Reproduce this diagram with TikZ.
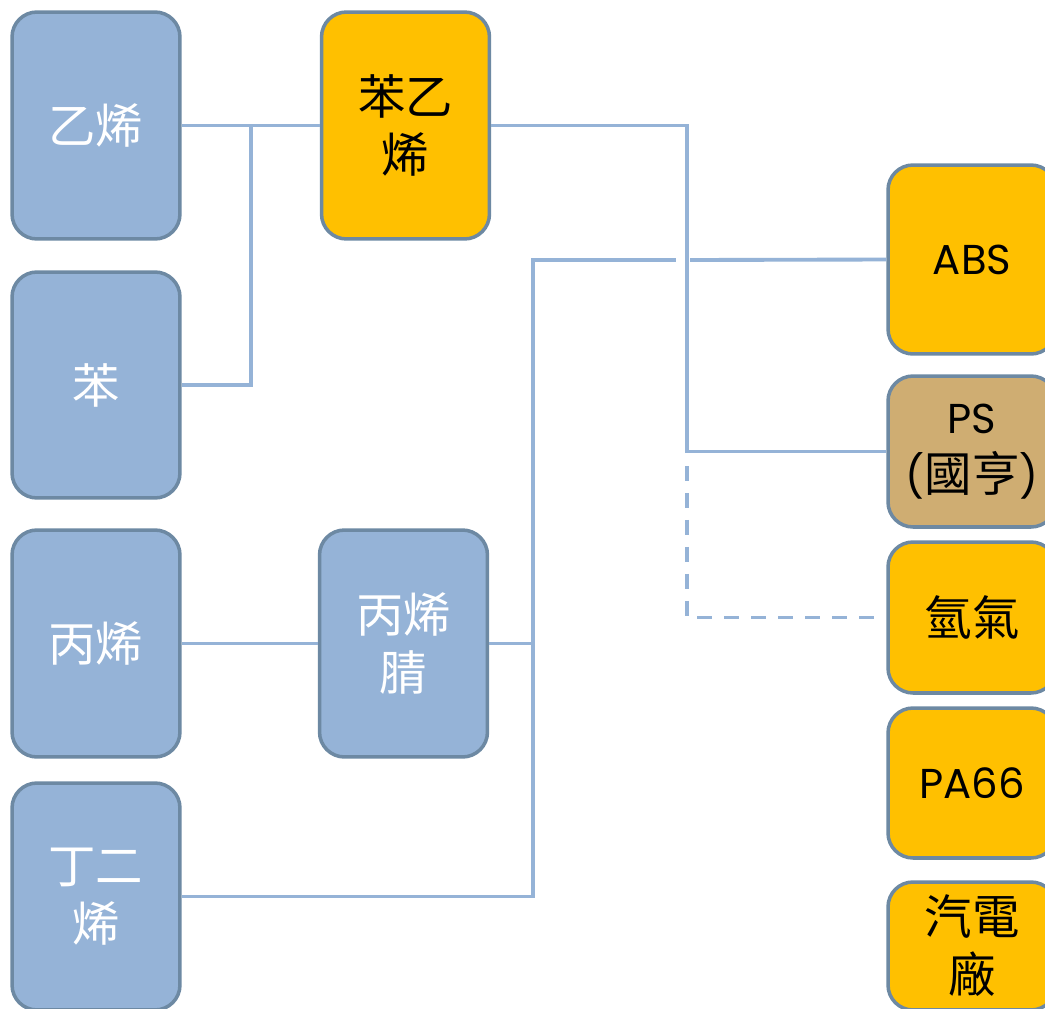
\documentclass[tikz,border=0pt]{standalone}
\usepackage{fontspec}
\newfontfamily\cjk{Noto Sans CJK TC}
\newfontfamily\latin[Scale=0.88]{Poppins}
\definecolor{steelfill}{HTML}{95B3D7}
\definecolor{steeledge}{HTML}{6D89A3}
\definecolor{goldfill}{HTML}{FFC000}
\definecolor{tanfill}{HTML}{CFAD72}
\tikzset{base box/.style={
    draw=steeledge, line width=2pt, rounded corners=0.5cm,
    minimum width=3.36cm, align=center, inner sep=0pt,
    font=\fontsize{27}{33}\selectfont\cjk,
  },
  blue box/.style={base box, fill=steelfill, text=white},
  gold box/.style={base box, fill=goldfill, text=black},
  tan box/.style={base box, fill=tanfill, text=black},
  link/.style={draw=steelfill, line width=2.2pt},
  dashed link/.style={link, dash pattern=on 0.3cm off 0.24cm},
}

\begin{document}
\begin{tikzpicture}[x=0.02cm, y=-0.02cm]
\clip (0,0) rectangle (1045,1008);
\fill[white] (0,0) rectangle (1045,1008);
% joints of the connectors
\coordinate (ethjoin) at (251,125.5);
\coordinate (styjoin) at (687,125.5);
\coordinate (absjoin) at (533,260);
\coordinate (acnjoin) at (533,643.5);
\coordinate (hopleft) at (676,260);
\coordinate (hopright) at (690,260);
\coordinate (dashtop) at (687,466);
% left column
\node[blue box, minimum height=4.54cm] (ethylene) at (96,125.5) {乙烯};
\node[blue box, minimum height=4.52cm] (benzene) at (96,385) {苯};
\node[blue box, minimum height=4.54cm] (propylene) at (96,643.5) {丙烯};
\node[blue box, minimum height=4.54cm] (butadiene) at (96,896.5) {丁二\\烯};
% middle column
\node[gold box, minimum height=4.54cm] (styrene) at (405.5,125.5) {苯乙\\烯};
\node[blue box, minimum height=4.54cm] (acrylo) at (403.5,643.5) {丙烯\\腈};
% right column
\node[gold box, minimum height=3.78cm] (abs) at (972,259.5) {\latin ABS};
\node[tan box, minimum height=3.02cm] (ps) at (972,451.5) {\latin PS\\{\latin(}國亨{\latin)}};
\node[gold box, minimum height=3.02cm] (hydrogen) at (972,617.5) {氫氣};
\node[gold box, minimum height=3.00cm] (pa) at (972,783) {\latin PA66};
\node[gold box, minimum height=2.56cm] (power) at (972,946) {汽電\\廠};
% connectors
\draw[link] (ethylene.east) -- (styrene.west);
\draw[link] (benzene.east) -| (ethjoin);
\draw[link] (styrene.east) -- (styjoin) |- (ps.west);
\draw[dashed link] (dashtop) |- (hydrogen.west);
\draw[link] (propylene.east) -- (acrylo.west);
\draw[link] (acrylo.east) -- (acnjoin) -- (absjoin) -- (hopleft);
\draw[link] (hopright) -- (abs.west);
\draw[link] (butadiene.east) -| (acnjoin);
\end{tikzpicture}
\end{document}
